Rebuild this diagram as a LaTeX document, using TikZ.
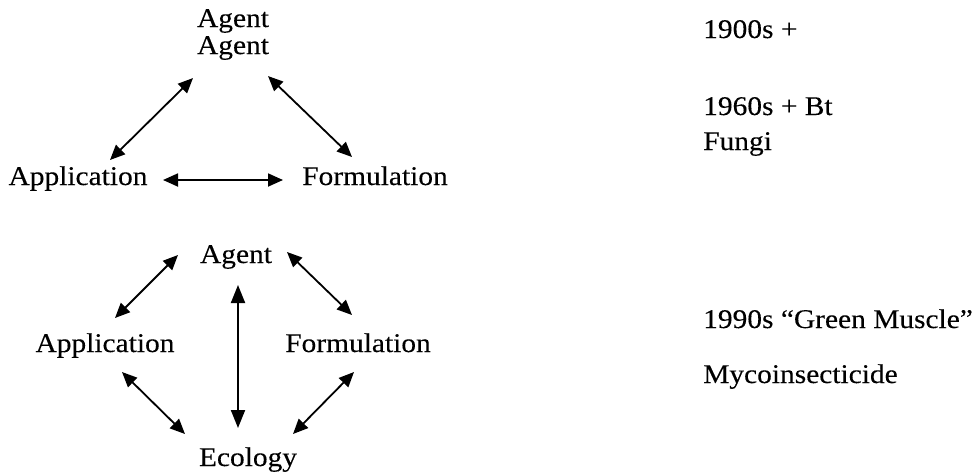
\documentclass[tikz,border=0pt]{standalone}
\usepackage{fontspec}
\setmainfont{Liberation Serif}[FakeStretch=1.09, FakeBold=0.2]
\usepackage{tikz}
\usetikzlibrary{positioning, calc, arrows.meta}

\begin{document}
\begin{tikzpicture}[x=1pt, y=-1pt,
    txt/.style={inner sep=0pt, font=\fontsize{27}{32}\selectfont},
    dbl/.style={line width=1.8pt, {Triangle[length=15pt,width=13pt]}-{Triangle[length=15pt,width=13pt]}},
    bigdbl/.style={line width=1.9pt, {Triangle[length=18pt,width=14pt]}-{Triangle[length=18pt,width=14pt]}}]
            \useasboundingbox (0,0) rectangle (976,472);
            \node [txt, anchor=base] (agent1) at (233,27) {Agent};
            \node [txt, below=3pt of agent1] (agent2) {Agent};
            \node [txt, anchor=base] (app1) at (78,185) {Application};
            \node [txt, anchor=base] (form1) at (375,185) {Formulation};

            \node [txt, anchor=base] (agent3) at (236,263) {Agent};
            \node [txt, anchor=base] (app2) at (105,352) {Application};
            \node [txt, anchor=base] (form2) at (358,352) {Formulation};
            \node [txt, anchor=base] (eco) at (248,466) {Ecology};

            \node [txt, anchor=base west] (t1900) at (703,38) {1900s +};
            \node [txt, anchor=base west] (t1960) at (703,115) {1960s + Bt};
            \node [txt, anchor=base west] (fungi) at (703,150) {Fungi};
            \node [txt, anchor=base west] (t1990) at (703,328) {1990s “Green Muscle”};
            \node [txt, anchor=base west] (myco) at (703,383) {Mycoinsecticide};

            \draw [dbl] ($(agent2.base)+(-40,24)$) -- ($(app1.base)+(32,-25)$);
            \draw [dbl] ($(agent2.base)+(35,22)$) -- ($(form1.base)+(-23,-28)$);
            \draw [dbl] ($(app1.base)+(85,-5)$) -- ($(form1.base)+(-92,-5)$);

            \draw [dbl] ($(agent3.base)+(-58,-8)$) -- ($(app2.base)+(10,-34)$);
            \draw [dbl] ($(agent3.base)+(51,-11)$) -- ($(form2.base)+(-6,-37)$);
            \draw [bigdbl] ($(agent3.base)+(2,22)$) -- ($(eco.base)+(-10,-38)$);
            \draw [dbl] ($(app2.base)+(17,20)$) -- ($(eco.base)+(-63,-32)$);
            \draw [dbl] ($(form2.base)+(-4,20)$) -- ($(eco.base)+(45,-32)$);
          \end{tikzpicture}
\end{document}
